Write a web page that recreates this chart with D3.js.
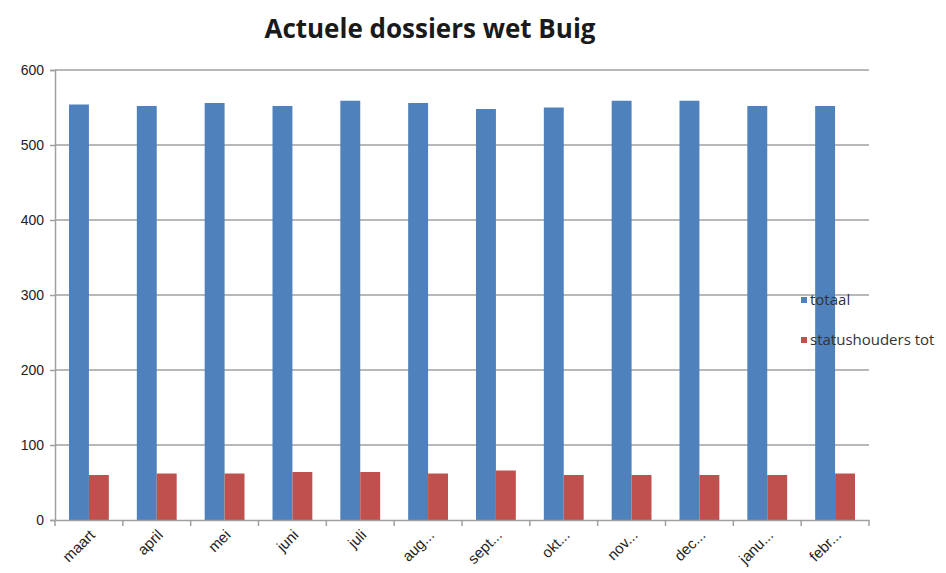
<!DOCTYPE html>
<html>
<head>
<meta charset="utf-8">
<script src="https://cdn.jsdelivr.net/npm/d3@7"></script>
<style>
  body { margin: 0; background: #fff; }
  text { font-family: "Liberation Sans", Arial, sans-serif; }
</style>
</head>
<body>
<svg id="chart" width="946" height="573"></svg>
<script>
// data
var months = ['maart', 'april', 'mei', 'juni', 'juli', 'aug...', 'sept...', 'okt...', 'nov...', 'dec...', 'janu...', 'febr...'];
var totaal = [554, 552, 556, 552, 559, 556, 548, 550, 559, 559, 552, 552];
var statushouders = [60, 62, 62, 64, 64, 62, 66, 60, 60, 60, 60, 62];
var seriesNames = ['totaal', 'statushouders tot'];
var yTicks = [0, 100, 200, 300, 400, 500, 600];

var colors = ['#4f81bd', '#c0504d'];
var svg = d3.select('#chart');
var margin = {left: 55, right: 77, top: 70, bottom: 53};
var W = 946, H = 573;

var x = d3.scaleBand().domain(months).range([margin.left, W - margin.right]);
var y = d3.scaleLinear().domain([0, 600]).range([H - margin.bottom, margin.top]);
// two bars side by side in each month, gap of ~14px on each side
var inner = d3.scaleBand().domain([0, 1]).range([14, x.bandwidth() - 14]);

// title
svg.append('text')
  .attr('x', 430).attr('y', 38)
  .attr('text-anchor', 'middle')
  .style('font-family', '"Open Sans", sans-serif')
  .style('font-weight', 'bold')
  .style('font-size', '26px')
  .style('fill', '#1a1a1a')
  .text('Actuele dossiers wet Buig');

// gridlines
svg.append('g')
  .selectAll('line')
  .data(yTicks.filter(function(d) { return d > 0; }))
  .enter().append('line')
    .attr('x1', margin.left).attr('x2', W - margin.right)
    .attr('y1', function(d) { return y(d); }).attr('y2', function(d) { return y(d); })
    .style('stroke', '#a0a0a0')
    .style('stroke-width', 1.5);

// y axis
var yAxis = svg.append('g')
  .attr('transform', 'translate(' + margin.left + ',0)')
  .call(d3.axisLeft(y).tickValues(yTicks).tickSize(5).tickPadding(6));
yAxis.select('.domain').style('stroke', '#a0a0a0').style('stroke-width', 1.5);
yAxis.selectAll('.tick line').style('stroke', '#a0a0a0').style('stroke-width', 1.5);
yAxis.selectAll('.tick text').style('font-size', '14px').style('fill', '#222');

// bars
var data = months.map(function(m, i) { return {m: m, vals: [totaal[i], statushouders[i]]}; });
var groups = svg.append('g').selectAll('g')
  .data(data)
  .enter().append('g')
    .attr('transform', function(d) { return 'translate(' + x(d.m) + ',0)'; });
groups.selectAll('rect')
  .data(function(d) { return d.vals; })
  .enter().append('rect')
    .attr('x', function(d, i) { return inner(i); })
    .attr('width', inner.bandwidth())
    .attr('y', function(d) { return y(d); })
    .attr('height', function(d) { return y(0) - y(d); })
    .style('fill', function(d, i) { return colors[i]; });

// x axis
var xAxis = svg.append('g')
  .attr('transform', 'translate(0,' + y(0) + ')')
  .call(d3.axisBottom(x).tickSize(0).tickPadding(0));
xAxis.select('.domain').style('stroke', '#a0a0a0').style('stroke-width', 1.5);
xAxis.selectAll('.tick text')
  .attr('y', 0).attr('dy', 0)
  .attr('transform', 'translate(7,16) rotate(-45)')
  .attr('text-anchor', 'end')
  .style('font-size', '15px')
  .style('fill', '#222');
// category separators
svg.append('g').selectAll('line')
  .data(months.concat(['end']))
  .enter().append('line')
    .attr('x1', function(d, i) { return margin.left + i * x.bandwidth(); })
    .attr('x2', function(d, i) { return margin.left + i * x.bandwidth(); })
    .attr('y1', y(0)).attr('y2', y(0) + 6)
    .style('stroke', '#a0a0a0').style('stroke-width', 1.5);

// legend
var legend = svg.append('g').selectAll('g')
  .data(seriesNames)
  .enter().append('g')
    .attr('transform', function(d, i) { return 'translate(801,' + (300 + i * 40) + ')'; });
legend.append('rect')
  .attr('x', 0).attr('y', -3).attr('width', 6).attr('height', 6)
  .style('fill', function(d, i) { return colors[i]; });
legend.append('text')
  .attr('x', 9).attr('y', 0).attr('dy', '0.35em')
  .style('font-family', '"Open Sans", sans-serif')
  .style('font-size', '15px')
  .style('fill', '#333')
  .text(function(d) { return d; });
</script>
</body>
</html>
